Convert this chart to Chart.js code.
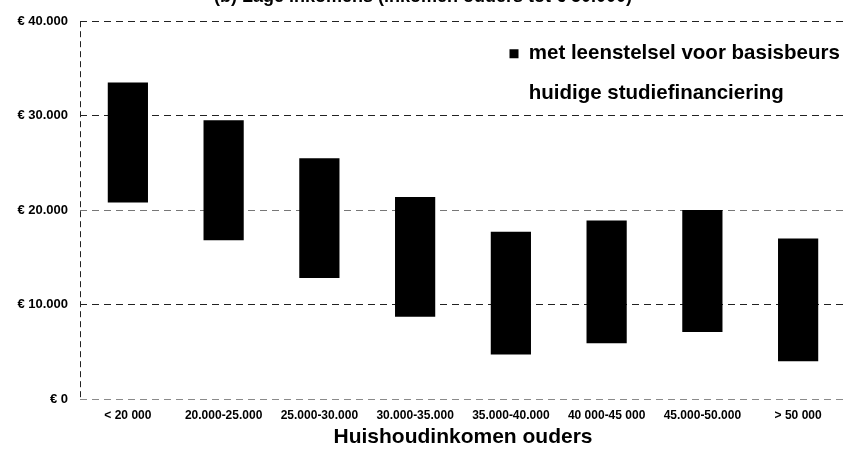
<!DOCTYPE html>
<html>
<head>
<meta charset="utf-8">
<script src="https://cdn.jsdelivr.net/npm/chart.js@4"></script>
<style>
  html, body { margin: 0; padding: 0; background: #ffffff; }
  #wrap { width: 855px; height: 450px; }
</style>
</head>
<body>
<div id="wrap"><canvas id="c" width="855" height="450"></canvas></div>
<script>
const categories = ['< 20 000', '20.000-25.000', '25.000-30.000', '30.000-35.000', '35.000-40.000', '40 000-45 000', '45.000-50.000', '> 50 000'];
const leenstelselLow  = [20800, 16800, 12800, 8700, 4700, 5900, 7100, 4000];
const leenstelselHigh = [33500, 29500, 25500, 21400, 17700, 18900, 20000, 17000];
const huidigeLow  = [4800, 5000, 3200, 2600, 2500, 3000, 3500, 3300];
const huidigeHigh = [17000, 16600, 11000, 8500, 4700, 5900, 7100, 4000];
const yTickValues = [0, 10000, 20000, 30000, 40000];
const yTickLabels = ['€ 0', '€ 10.000', '€ 20.000', '€ 30.000', '€ 40.000'];
const seriesNames = ['met leenstelsel voor basisbeurs', 'huidige studiefinanciering'];
const chartTitle = '(b) Lage inkomens (inkomen ouders tot € 50.000)';
const xAxisTitle = 'Huishoudinkomen ouders';

const FONT = "'Liberation Sans', Arial, sans-serif";

const legendPlacer = {
  id: 'legendPlacer',
  afterLayout(chart) {
    const lg = chart.legend;
    if (!lg) return;
    const h = lg.height;
    lg.left = 490;
    lg.top = 24;
    lg.right = 855;
    lg.width = lg.right - lg.left;
    lg.bottom = lg.top + h;
  }
};

new Chart(document.getElementById('c'), {
  type: 'bar',
  data: {
    labels: categories,
    datasets: [
      {
        label: seriesNames[0],
        data: categories.map((c, i) => [leenstelselLow[i], leenstelselHigh[i]]),
        backgroundColor: '#000000',
        borderColor: '#000000',
        borderWidth: 0,
        grouped: false,
        order: 0,
        barPercentage: 0.42,
        categoryPercentage: 1.0
      },
      {
        label: seriesNames[1],
        data: categories.map((c, i) => [huidigeLow[i], huidigeHigh[i]]),
        backgroundColor: 'rgba(255,255,255,0)',
        borderColor: 'rgba(255,255,255,0)',
        borderWidth: 0,
        grouped: false,
        order: 1,
        barPercentage: 0.42,
        categoryPercentage: 1.0
      }
    ]
  },
  options: {
    responsive: false,
    animation: false,
    layout: { padding: { left: 0, right: 9, top: 0, bottom: 0 } },
    plugins: {
      title: {
        display: true,
        text: chartTitle,
        color: '#000',
        font: { family: FONT, size: 18, weight: 'bold' },
        padding: { top: -14, bottom: 13.6 }
      },
      legend: {
        display: true,
        position: 'chartArea',
        align: 'start',
        labels: {
          color: '#000',
          font: { family: FONT, size: 20.5, weight: 'bold' },
          boxWidth: 9,
          boxHeight: 9,
          padding: 19.5
        }
      },
      tooltip: { enabled: false }
    },
    scales: {
      x: {
        offset: true,
        grid: {
          display: true,
          offset: true,
          drawTicks: false,
          lineWidth: 1,
          color: (ctx) => ctx.index === 0 ? '#222' : 'rgba(0,0,0,0)'
        },
        border: { display: false, dash: [6, 4] },
        ticks: {
          color: '#000',
          font: { family: FONT, size: 12, weight: 'bold' },
          padding: 9,
          maxRotation: 0,
          autoSkip: false
        },
        title: {
          display: true,
          text: xAxisTitle,
          color: '#000',
          font: { family: FONT, size: 21, weight: 'bold' },
          padding: { top: 0, bottom: 0 }
        },
        afterFit(scale) { scale.height = 51; }
      },
      y: {
        min: 0,
        max: 40000,
        afterBuildTicks(scale) { scale.ticks = yTickValues.map(v => ({ value: v })); },
        grid: {
          drawTicks: false,
          lineWidth: 1,
          color: (ctx) => {
            const v = ctx.tick ? ctx.tick.value : null;
            if (v === 0) return '#8a8a8a';
            if (v === 20000) return '#777';
            return '#222';
          }
        },
        border: { display: false, dash: [7, 5] },
        ticks: {
          color: '#000',
          font: { family: FONT, size: 13, weight: 'bold' },
          padding: 12,
          callback: (v) => yTickLabels[yTickValues.indexOf(v)]
        },
        afterFit(scale) { scale.width = 80; }
      }
    }
  },
  plugins: [legendPlacer]
});
</script>
</body>
</html>
